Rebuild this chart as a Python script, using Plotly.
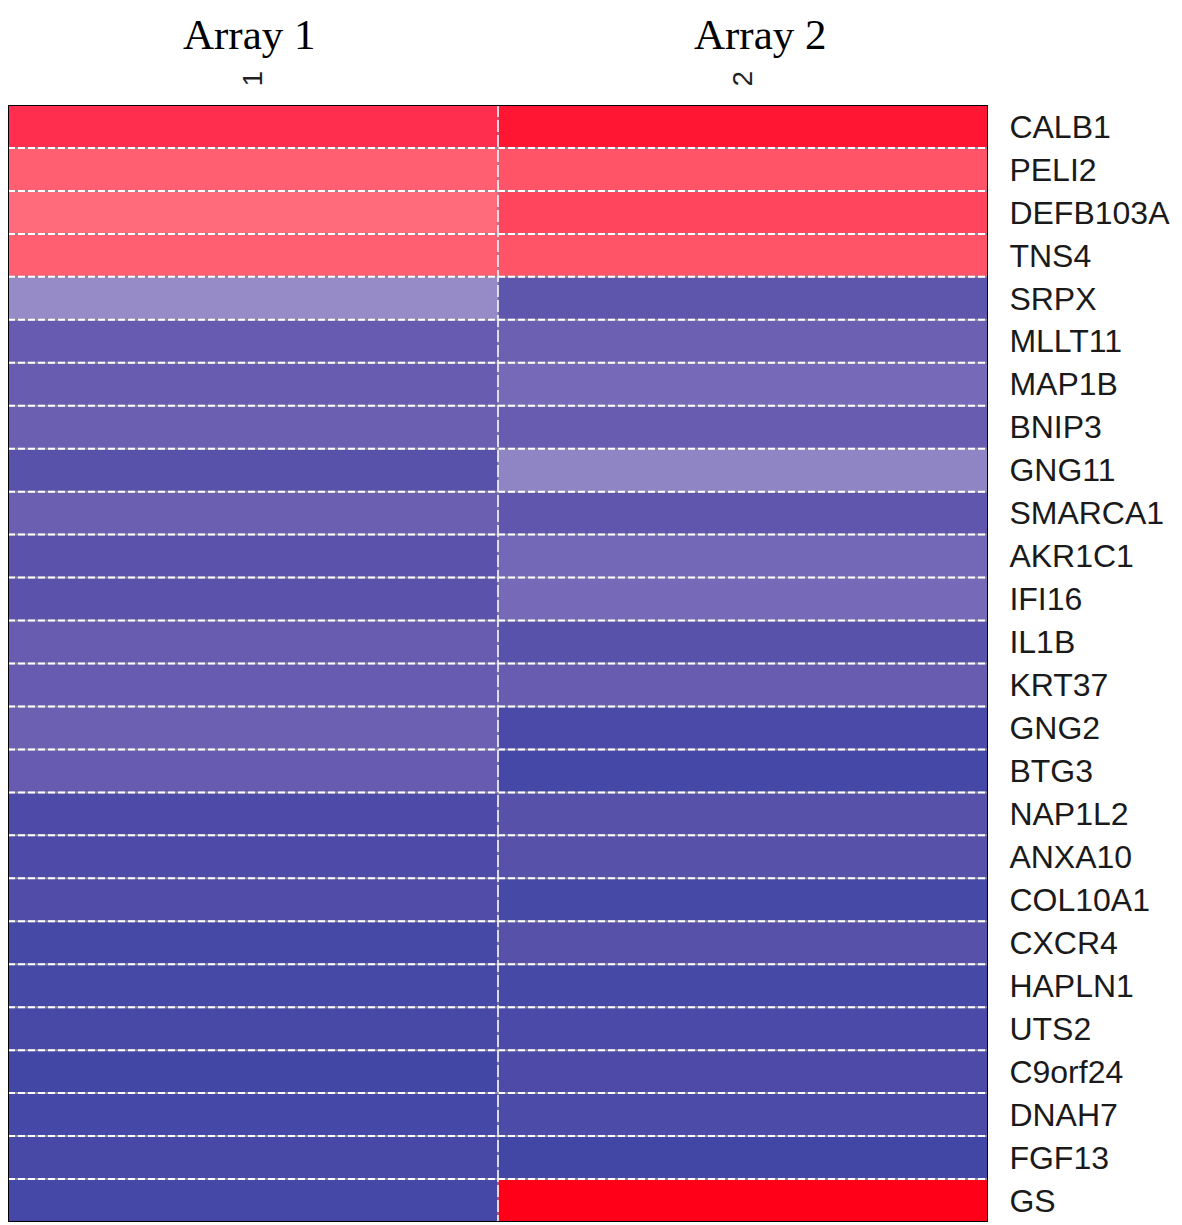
import plotly.graph_objects as go

genes = ["CALB1", "PELI2", "DEFB103A", "TNS4", "SRPX", "MLLT11", "MAP1B", "BNIP3",
         "GNG11", "SMARCA1", "AKR1C1", "IFI16", "IL1B", "KRT37", "GNG2", "BTG3",
         "NAP1L2", "ANXA10", "COL10A1", "CXCR4", "HAPLN1", "UTS2", "C9orf24",
         "DNAH7", "FGF13", "GS"]
arrays = ["1", "2"]
array_titles = ["Array 1", "Array 2"]

# relative expression score (0 = lowest / blue, 1 = highest / red)
array1 = [0.86, 0.67, 0.60, 0.67, 0.44, 0.25, 0.26, 0.28,
          0.17, 0.28, 0.18, 0.18, 0.26, 0.25, 0.29, 0.25,
          0.10, 0.10, 0.11, 0.05, 0.05, 0.06, 0.02,
          0.04, 0.06, 0.04]
array2 = [0.93, 0.72, 0.78, 0.72, 0.20, 0.29, 0.33, 0.26,
          0.42, 0.21, 0.32, 0.33, 0.17, 0.26, 0.08, 0.04,
          0.16, 0.16, 0.05, 0.16, 0.05, 0.08, 0.10,
          0.09, 0.02, 1.00]

colorscale = [
    [0.00, "#3F46A6"],
    [0.10, "#4E4BA8"],
    [0.20, "#5E55AC"],
    [0.30, "#6E61B4"],
    [0.40, "#897FC2"],
    [0.45, "#998EC7"],
    [0.55, "#FF7482"],
    [0.70, "#FF5A6B"],
    [0.85, "#FF3052"],
    [1.00, "#FF0018"],
]

n = len(genes)
z = [[array1[i], array2[i]] for i in range(n)]

fig = go.Figure(go.Heatmap(
    z=z, x=[0, 1], y=list(range(n)),
    colorscale=colorscale, zmin=0, zmax=1, showscale=False,
))

shapes = []
for i in range(1, n):
    yy = i - 0.5
    shapes.append(dict(type="line", xref="x", yref="y", x0=-0.5, x1=1.5, y0=yy, y1=yy,
                       line=dict(color="#8C8CA8", width=2), layer="above"))
    shapes.append(dict(type="line", xref="x", yref="y", x0=-0.5, x1=1.5, y0=yy, y1=yy,
                       line=dict(color="white", width=2, dash="7px,3px"), layer="above"))
shapes.append(dict(type="line", xref="x", yref="y", x0=0.5, x1=0.5, y0=-0.5, y1=n - 0.5,
                   line=dict(color="#8C8CA8", width=1), layer="above"))
shapes.append(dict(type="line", xref="x", yref="y", x0=0.5, x1=0.5, y0=-0.5, y1=n - 0.5,
                   line=dict(color="white", width=1.5, dash="12px,3px"), layer="above"))
shapes.append(dict(type="rect", xref="x", yref="y", x0=-0.5, x1=1.5, y0=-0.5, y1=n - 0.5,
                   line=dict(color="black", width=2), layer="above"))

annotations = []
for xi, t in zip([0.246, 0.768], array_titles):
    annotations.append(dict(text=t, xref="paper", yref="paper", x=xi, y=1.0855,
                            xanchor="center", yanchor="top", showarrow=False,
                            font=dict(family="Liberation Serif", size=43, color="black")))

fig.update_layout(
    width=1174, height=1217,
    margin=dict(l=0, r=194, t=97, b=3, pad=0),
    paper_bgcolor="white", plot_bgcolor="white",
    shapes=shapes, annotations=annotations,
    xaxis=dict(side="top", tickvals=[0, 1], ticktext=arrays, tickangle=-90,
               range=[-0.5, 1.5], showgrid=False, zeroline=False,
               ticks="outside", ticklen=12, tickcolor="rgba(0,0,0,0)",
               tickfont=dict(family="Liberation Sans", size=28, color="#222222")),
    yaxis=dict(side="right", tickvals=list(range(n)), ticktext=genes,
               range=[n - 0.5, -0.5], showgrid=False, zeroline=False,
               ticks="outside", ticklen=14, tickcolor="rgba(0,0,0,0)",
               tickfont=dict(family="Liberation Sans", size=32, color="#1A1A1A")),
)

fig.write_html("out.html")
